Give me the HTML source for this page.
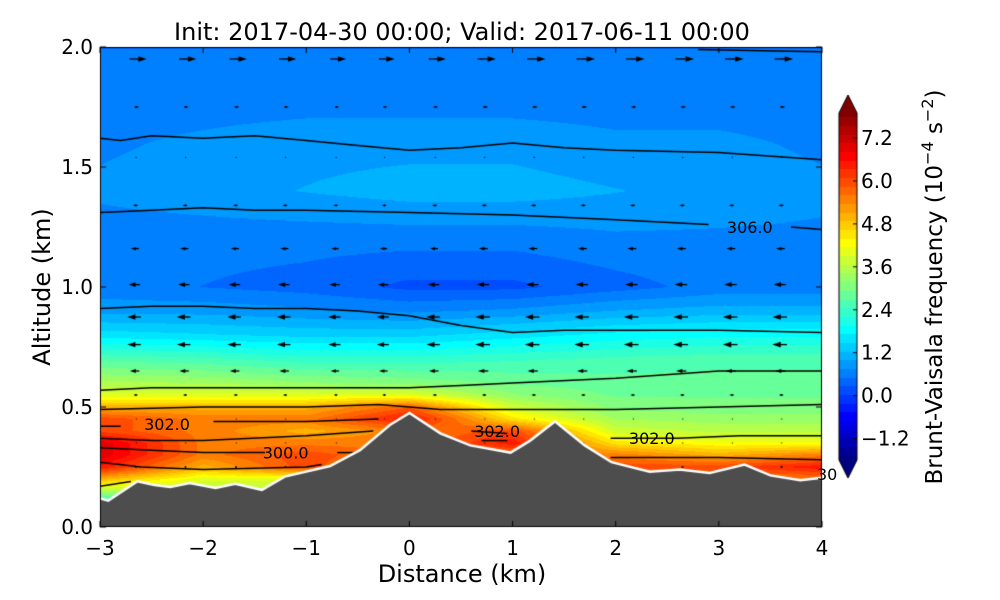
<!DOCTYPE html>
<html><head><meta charset="utf-8">
<style>
body{margin:0;background:#fff;}
#wrap{position:relative;width:1000px;height:600px;font-family:"DejaVu Sans","Liberation Sans",sans-serif;}
canvas,svg{position:absolute;left:0;top:0;}
</style></head>
<body>
<div id="wrap">
<canvas id="cv" width="1000" height="600"></canvas>
<svg id="sv" width="1000" height="600"></svg>
</div>
<script>
// ---- data ----
const colX = [-3,-2,-1,0,1,2,3,4];
const rowZ = [0.1,0.2,0.25,0.3,0.35,0.4,0.45,0.5,0.55,0.6,0.7,0.8,0.9,1.0,1.2,1.4,1.6,1.8,2.0];
const nField = [
 [2,3,3,5,5,5,5,5],
 [5,4,4,5,5,5,5.5,5.5],
 [6.5,5,6,5,5,6,6,6.5],
 [7,5.5,6,5.5,5.5,5.5,5,5.5],
 [7,5.5,5.5,5.5,6.5,4.5,4.2,4.2],
 [6,5.5,5,5.5,6,3.8,3.6,3.6],
 [6,5.5,5.5,6.5,4.5,3.4,3.3,3.3],
 [5,5,5,5.8,3.8,3.1,3.0,3.0],
 [4,4,4,4.0,3.2,2.9,2.9,2.9],
 [3.5,3.4,3.2,3.1,2.9,2.8,2.8,2.8],
 [2.6,2.5,2.3,2.3,2.4,2.5,2.6,2.6],
 [1.6,1.5,1.4,1.4,1.6,1.8,1.9,1.9],
 [0.9,0.9,0.8,0.7,0.8,1.0,1.1,1.1],
 [0.6,0.5,0.4,0.2,0.2,0.4,0.6,0.6],
 [0.6,0.6,0.6,0.6,0.6,0.7,0.7,0.7],
 [0.8,0.9,1.0,1.1,1.1,1.0,0.9,0.8],
 [0.7,0.8,0.9,0.9,0.9,0.8,0.8,0.7],
 [0.6,0.6,0.6,0.6,0.6,0.6,0.6,0.6],
 [0.5,0.5,0.5,0.5,0.5,0.5,0.5,0.5]];
const terrainX = [-3,-2.92,-2.64,-2.47,-2.32,-2.13,-1.88,-1.69,-1.43,-1.21,-0.77,-0.48,-0.19,0.0,0.3,0.59,0.98,1.17,1.41,1.7,1.96,2.33,2.62,2.91,3.25,3.5,3.79,4.0];
const terrainZ = [0.12,0.11,0.19,0.175,0.167,0.183,0.163,0.18,0.155,0.21,0.254,0.32,0.425,0.475,0.39,0.34,0.31,0.36,0.44,0.34,0.27,0.23,0.24,0.225,0.26,0.215,0.195,0.205];
const isoLines = [
 {x:[2.8,3.3,4.0], z:[1.99,1.985,1.98]},
 {x:[-3,-2.8,-2.5,-2,-1.5,-1,-0.5,0,0.5,1,1.5,2,3,4], z:[1.62,1.61,1.63,1.62,1.63,1.61,1.59,1.57,1.58,1.6,1.58,1.57,1.56,1.53]},
 {x:[-3,-2.5,-2,-1.5,-1,0,1,2,2.9], z:[1.31,1.32,1.33,1.32,1.32,1.31,1.30,1.28,1.26]},
 {x:[3.7,4.0], z:[1.25,1.24]},
 {x:[-3,-2.5,-2,-1.5,-1,-0.5,0,0.5,1,1.5,2,3,4], z:[0.91,0.92,0.92,0.91,0.91,0.9,0.88,0.84,0.81,0.82,0.82,0.82,0.81]},
 {x:[-3,-2.5,-2,-1,0,0.5,1,2,3,4], z:[0.57,0.58,0.58,0.58,0.58,0.59,0.6,0.62,0.65,0.65]},
 {x:[-3,-2,-1,-0.3,0,0.3,1,2,3,4], z:[0.49,0.5,0.5,0.51,0.5,0.49,0.49,0.49,0.5,0.51]},
 {x:[-3,-2.8], z:[0.42,0.42]},
 {x:[-1.9,-1,-0.3], z:[0.44,0.44,0.45]},
 {x:[0.6,0.95], z:[0.4,0.39]},
 {x:[-3,-2.5,-2,-1,-0.35], z:[0.37,0.36,0.36,0.38,0.4]},
 {x:[1.95,2.6,3.2,4.0], z:[0.37,0.37,0.38,0.38]},
 {x:[-3,-2.5,-2,-1.4], z:[0.33,0.32,0.31,0.31]},
 {x:[-0.7,-0.5], z:[0.31,0.31]},
 {x:[-3,-2.6,-2,-1,-0.85], z:[0.27,0.25,0.24,0.25,0.26]},
 {x:[-3,-2.7], z:[0.17,0.19]},
 {x:[1.95,3,4], z:[0.29,0.29,0.28]},
 {x:[0.7,0.95], z:[0.36,0.36]}
];
const isoLabels = [
 {x:-2.35,z:0.43,t:"302.0"},{x:-1.2,z:0.31,t:"300.0"},{x:0.85,z:0.4,t:"302.0"},
 {x:2.35,z:0.37,t:"302.0"},{x:3.3,z:1.25,t:"306.0"},{x:4.05,z:0.22,t:"30"}];
const arrowX = [-2.65,-2.17,-1.68,-1.2,-0.71,-0.24,0.25,0.73,1.21,1.69,2.17,2.65,3.13,3.61];
const arrowZ = [1.95,1.75,1.54,1.34,1.16,1.01,0.875,0.76,0.65,0.55,0.45,0.35,0.25];
const arrowU = [2.6,0.6,0.1,-0.6,-1.1,-1.6,-1.9,-1.9,-1.3,-0.5,-0.05,-0.05,-0.3];
const arrowColFactor = [1,1,1,1,0.9,0.9,1,1.1,1.1,1.1,1.1,1.1,1.1,1.1];
const yTicks = [0.0,0.5,1.0,1.5,2.0];
const xTicks = [-3,-2,-1,0,1,2,3,4];
const cbTicks = [-1.2,0.0,1.2,2.4,3.6,4.8,6.0,7.2];
// ---- axes ----
const X0=100,X1=822,Y0=527,Y1=47;
const sx = v => X0 + (v+3)/7*(X1-X0);
const sy = v => Y0 - v/2*(Y0-Y1);
const VMIN=-1.8,VMAX=7.9;
function jet(v){
 let t=(v-VMIN)/(VMAX-VMIN); t=Math.max(0,Math.min(1,t));
 t=Math.round(t*40)/40;
 const c=a=>Math.round(255*Math.max(0,Math.min(1,1.5-Math.abs(4*t-a))));
 return [c(3),c(2),c(1)];
}
function fieldAt(x,z){
 let i=0; while(i<colX.length-2 && x>colX[i+1]) i++;
 let fx=(x-colX[i])/(colX[i+1]-colX[i]); fx=Math.max(0,Math.min(1,fx));
 let j=0; while(j<rowZ.length-2 && z>rowZ[j+1]) j++;
 let fz=(z-rowZ[j])/(rowZ[j+1]-rowZ[j]); fz=Math.max(0,Math.min(1,fz));
 const a=nField[j][i]*(1-fx)+nField[j][i+1]*fx;
 const b=nField[j+1][i]*(1-fx)+nField[j+1][i+1]*fx;
 return a*(1-fz)+b*fz;
}
const cv=document.getElementById('cv'),ctx=cv.getContext('2d');
ctx.fillStyle='#fff';ctx.fillRect(0,0,1000,600);
const img=ctx.createImageData(X1-X0,Y0-Y1);
for(let py=0;py<Y0-Y1;py++){for(let px=0;px<X1-X0;px++){
 const x=(px+0.5)/(X1-X0)*7-3, z=(Y0-Y1-py-0.5)/(Y0-Y1)*2;
 const c=jet(fieldAt(x,z)); const k=(py*(X1-X0)+px)*4;
 img.data[k]=c[0];img.data[k+1]=c[1];img.data[k+2]=c[2];img.data[k+3]=255;}}
ctx.putImageData(img,X0,Y1);
ctx.strokeStyle='#000';ctx.lineWidth=1.5;
isoLines.forEach(l=>{ctx.beginPath();l.x.forEach((x,i)=>{const p=[sx(x),sy(l.z[i])];i?ctx.lineTo(p[0],p[1]):ctx.moveTo(p[0],p[1]);});ctx.stroke();});
ctx.fillStyle='#000';
arrowZ.forEach((z,r)=>{arrowX.forEach((x,c)=>{
 const u=arrowU[r]*arrowColFactor[c]; const x0=sx(x),y0=sy(z);
 const L=u*5, d=Math.sign(u)||1, h=Math.min(7,1+Math.abs(u)*3);
 ctx.beginPath();ctx.lineWidth=1.3;ctx.moveTo(x0-L/2,y0);ctx.lineTo(x0+L/2,y0);ctx.stroke();
 ctx.beginPath();ctx.moveTo(x0+L/2+d*h*0.6,y0);ctx.lineTo(x0+L/2-d*h*0.6,y0-h*0.4);ctx.lineTo(x0+L/2-d*h*0.6,y0+h*0.4);ctx.closePath();ctx.fill();
});});
ctx.beginPath();ctx.moveTo(sx(-3),Y0);
terrainX.forEach((x,i)=>ctx.lineTo(sx(x),sy(terrainZ[i])));
ctx.lineTo(sx(4),Y0);ctx.closePath();ctx.fillStyle='#4d4d4d';ctx.fill();
ctx.beginPath();terrainX.forEach((x,i)=>{i?ctx.lineTo(sx(x),sy(terrainZ[i])):ctx.moveTo(sx(x),sy(terrainZ[i]));});
ctx.strokeStyle='#fff';ctx.lineWidth=2.5;ctx.stroke();
const CB0=839,CB1=857,CBT=113,CBB=460;
const cbY=v=>CBB-(v-VMIN)/(VMAX-VMIN)*(CBB-CBT);
for(let y=CBT;y<CBB;y++){const c=jet(VMIN+(CBB-y-0.5)/(CBB-CBT)*(VMAX-VMIN));ctx.fillStyle=`rgb(${c})`;ctx.fillRect(CB0,y,CB1-CB0,1);}
ctx.fillStyle='rgb(128,0,0)';ctx.beginPath();ctx.moveTo(CB0,CBT);ctx.lineTo((CB0+CB1)/2,95);ctx.lineTo(CB1,CBT);ctx.fill();
ctx.fillStyle='rgb(0,0,128)';ctx.beginPath();ctx.moveTo(CB0,CBB);ctx.lineTo((CB0+CB1)/2,478);ctx.lineTo(CB1,CBB);ctx.fill();
ctx.strokeStyle='#000';ctx.lineWidth=1;
ctx.beginPath();ctx.moveTo(CB0,CBT);ctx.lineTo((CB0+CB1)/2,95);ctx.lineTo(CB1,CBT);ctx.lineTo(CB1,CBB);ctx.lineTo((CB0+CB1)/2,478);ctx.lineTo(CB0,CBB);ctx.closePath();ctx.stroke();
ctx.strokeRect(X0+0.5,Y1+0.5,X1-X0-1,Y0-Y1-1);
ctx.beginPath();
yTicks.forEach(v=>{ctx.moveTo(X0,sy(v));ctx.lineTo(X0+6,sy(v));ctx.moveTo(X1,sy(v));ctx.lineTo(X1-6,sy(v));});
xTicks.forEach(v=>{ctx.moveTo(sx(v),Y0);ctx.lineTo(sx(v),Y0-6);ctx.moveTo(sx(v),Y1);ctx.lineTo(sx(v),Y1+6);});
cbTicks.forEach(v=>{ctx.moveTo(CB1,cbY(v));ctx.lineTo(CB1-4,cbY(v));});
ctx.stroke();
const sv=document.getElementById('sv'),NS='http://www.w3.org/2000/svg';
function txt(x,y,s,size,anchor,name,rot){const t=document.createElementNS(NS,'text');
 t.setAttribute('x',x);t.setAttribute('y',y);t.setAttribute('font-size',size);t.setAttribute('text-anchor',anchor);
 t.setAttribute('font-family','DejaVu Sans, Liberation Sans, sans-serif');
 if(rot)t.setAttribute('transform',`rotate(-90 ${x} ${y})`);
 t.textContent=s;
 
 
 sv.appendChild(t);return t;}
txt(462,40,'Init: 2017-04-30 00:00; Valid: 2017-06-11 00:00',24,'middle','chart-title');
txt(50,287,'Altitude (km)',24,'middle','y-axis-title',true);
txt(462,582,'Distance (km)',24,'middle','x-axis-title');
yTicks.forEach(v=>txt(93,sy(v)+7,v.toFixed(1),20,'end','y-tick-label'));
xTicks.forEach(v=>txt(sx(v),555,(v<0?'\u2212':'')+Math.abs(v),20,'middle','x-tick-label'));
cbTicks.forEach(v=>txt(861,cbY(v)+7,(v<0?'\u2212':'')+Math.abs(v).toFixed(1),20,'start','colorbar-tick-label'));
isoLabels.forEach(l=>txt(sx(l.x),sy(l.z)+6,l.t,16,'middle','isentrope-label'));
const cl=txt(942,287,'Brunt-Vaisala frequency (10',23,'middle','colorbar-title',true);
const s1=document.createElementNS(NS,'tspan');s1.setAttribute('dy','-9');s1.setAttribute('font-size','16');s1.textContent='\u22124';cl.appendChild(s1);
const s2=document.createElementNS(NS,'tspan');s2.setAttribute('dy','9');s2.textContent=' s';cl.appendChild(s2);
const s3=document.createElementNS(NS,'tspan');s3.setAttribute('dy','-9');s3.setAttribute('font-size','16');s3.textContent='\u22122';cl.appendChild(s3);
const s4=document.createElementNS(NS,'tspan');s4.setAttribute('dy','9');s4.textContent=')';cl.appendChild(s4);
</script>
</body></html>
